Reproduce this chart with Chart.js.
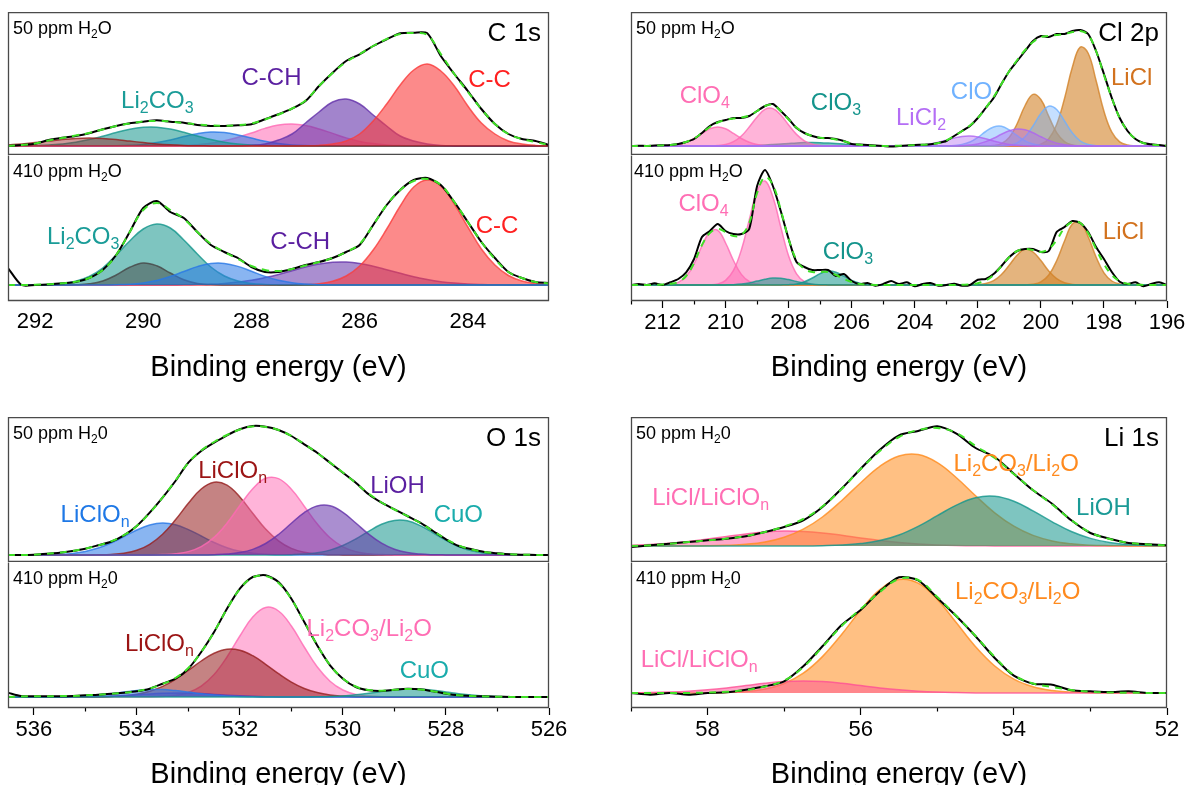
<!DOCTYPE html>
<html>
<head>
<meta charset="utf-8">
<script src="https://cdn.jsdelivr.net/npm/chart.js@4.4.1/dist/chart.umd.min.js"></script>
<style>
  body { margin: 0; width: 1194px; height: 785px; overflow: hidden; position: relative; background: #fff; }
  canvas { position: absolute; }
</style>
</head>
<body>
<canvas id="cTop"></canvas><canvas id="cBot"></canvas>
<canvas id="clTop"></canvas><canvas id="clBot"></canvas>
<canvas id="oTop"></canvas><canvas id="oBot"></canvas>
<canvas id="liTop"></canvas><canvas id="liBot"></canvas>
<script>
// ---------- C 1s (binding energy grid, eV) ----------
const cEnergy = [292.5,292.25,292,291.75,291.5,291.25,291,290.75,290.5,290.25,
  290,289.75,289.5,289.25,289,288.75,288.5,288.25,288,287.75,
  287.5,287.25,287,286.75,286.5,286.25,286,285.75,285.5,285.25,
  285,284.75,284.5,284.25,284,283.75,283.5,283.25,283,282.75,282.5];
const cTicks = [292, 290, 288, 286, 284];
// 50 ppm
const cTopRaw = [0,1,2.3,6,8.3,10,12.7,16.7,20,22.7, 24.3,25.7,24.3,23.3,21,20,20,20.7,21.7,26.7,
  31.7,37.3,45,60,73.3,85,91.7,100,106.7,112.7, 113.3,112.7,90,72,55,37,22,12,7,5, 1];
const cTopFit = [0,1,2.5,5.5,8,10.5,13,16.5,20,22.5, 24.5,25,24.5,23,21.5,20.5,20.3,20.8,22.5,26.5,
  31.5,37.5,45.5,60,73,84,92,100,107,112, 113,111,92,72,54,37,22,12,7,4, 1];
const cTopBrown = [1.2,2.1,3.4,4.9,6.5,7.6,8,7.6,6.5,4.9, 3.4,2.1,1.2,0.6,0.3,0.1,0,0,0,0,
  0,0,0,0,0,0,0,0,0,0, 0,0,0,0,0,0,0,0,0,0, 0];
const cTopLi2CO3 = [0,0.15,0.4,0.9,2,3.7,6.4,9.8,13.5,16.8, 18.7,18.8,16.9,13.7,10,6.5,3.8,2,0.95,0.4,
  0.15,0,0,0,0,0,0,0,0,0, 0,0,0,0,0,0,0,0,0,0, 0];
const cTopBlue = [0,0,0,0,0,0,0,0.1,0.2,0.7, 1.6,3.4,6.1,9.4,12.3,13.9,13.4,11.1,7.9,4.8,
  2.5,1.1,0.4,0.1,0,0,0,0,0,0, 0,0,0,0,0,0,0,0,0,0, 0];
const cTopPink = [0,0,0,0,0,0,0,0,0,0, 0,0,0.2,0.5,1.2,2.7,5.2,8.8,13,17.6,
  21,22,20.5,17,12.6,8.1,4.6,2.4,1.1,0.4, 0.1,0,0,0,0,0,0,0,0,0, 0];
const cTopCH = [0,0,0,0,0,0,0,0,0,0, 0,0,0,0,0,0,0,0.2,0.7,2,
  6,12,23,34,44,47,42,31,20,10, 5,2,0.5,0.1,0,0,0,0,0,0, 0];
const cTopCC = [0,0,0,0,0,0,0,0,0,0, 0,0,0,0,0,0,0,0,0,0,
  0,0,0.2,0.6,2,5,12,25,42,61, 76,82,75,60,40,23,12,5,2,0.6, 0.2];
// 410 ppm
const cBotRaw = [17,0,0,0.5,1.7,3,7,15,30,53, 77,84,73,67,53,40,33,27,18,13,
  13,16,20,23,27,33,40,60,80,95, 105,107,100,83,63,43,27,13,7,3, 2];
const cBotFit = [0,0,0.3,0.8,1.7,3.2,7,15,30,53, 75,82,75,66,53,41,33,26,19,15,
  14,16,19.5,23,27,33,41,60,80,95, 104,106,100,83,63,43,26,13,7,3, 1.5];
const cBotLi2CO3 = [0,0,0,0.4,1.3,3.8,8.6,17,30,44, 56,61,57,45,31,18,9,4,1.5,0.5,
  0.1,0,0,0,0,0,0,0,0,0, 0,0,0,0,0,0,0,0,0,0, 0];
const cBotGray = [0,0,0,0,0,0.2,1.2,4,10,17.7, 22,19.2,12,5.2,1.6,0.4,0,0,0,0,
  0,0,0,0,0,0,0,0,0,0, 0,0,0,0,0,0,0,0,0,0, 0];
const cBotBlue = [0,0,0,0,0,0,0,0,0.3,0.8, 2.1,4.6,8.5,13.5,18.4,21.5,21.6,18.6,13.7,8.6,
  4.7,2.2,0.9,0.3,0.1,0,0,0,0,0, 0,0,0,0,0,0,0,0,0,0, 0];
const cBotCH = [0,0,0,0,0,0,0,0,0,0, 0,0,0,0.2,0.4,0.8,1.6,2.9,4.7,7.4,
  10.6,14.3,17.9,20.9,22.7,22.9,21.5,18.8,15.3,11.7, 8.2,5.4,3.3,1.9,1,0.5,0.2,0.1,0,0, 0];
const cBotCC = [0,0,0,0,0,0,0,0,0,0, 0,0,0,0,0,0,0,0,0,0,
  0,0.1,0.4,1.3,3.7,9,19,35,56,79, 98,105,99,81,58,36,20,9.5,4,1.5, 0.5];

// ---------- Cl 2p ----------
const clEnergy = [213,212.75,212.5,212.25,212,211.75,211.5,211.25,211,210.75,
  210.5,210.25,210,209.75,209.5,209.25,209,208.75,208.5,208.25,
  208,207.75,207.5,207.25,207,206.75,206.5,206.25,206,205.75,
  205.5,205.25,205,204.75,204.5,204.25,204,203.75,203.5,203.25,
  203,202.75,202.5,202.25,202,201.75,201.5,201.25,201,200.75,
  200.5,200.25,200,199.75,199.5,199.25,199,198.75,198.5,198.25,
  198,197.75,197.5,197.25,197,196.75,196.5,196.25,196];
const clTicks = [213,212,211,210,209,208,207,206,205,204,203,202,201,200,199,198,197,196];
const clTopRaw = [0,0.3,0,0.5,0.7,1,2,4,7,13, 20,24,26,28,28,30,35,40,42,35,
  27,18,13,10,8,8,7,5,2,1.5, 1,0.5,0,-0.5,0,0.5,1,1.3,1.7,3,
  5,10,15,20,28,38,48,62,75,85, 95,105,110,109,112,112,115,116,112,95,
  72,48,28,15,7,3,1.7,1,0];
const clTopFit = [0,0,0,0.3,0.6,1,2,4,7.5,13, 19,23.5,26,27.5,28.5,30.5,35,40,41,35,
  26.5,18.5,13,10,8.3,7.5,6.5,4.8,2.5,1.3, 0.7,0.3,0.1,0.1,0.2,0.4,0.8,1.2,1.8,3,
  5.5,10,15,20.5,28,38,49,62,75,86, 96,104,109,110,111,112,114,115,111,95,
  71,48,28,15,7,3,1.5,0.7,0.3];
const clTopClO4a = [0,0,0,0,0.1,0.5,1.5,3.7,7.5,12.6, 17.2,19,17.2,12.6,7.5,3.7,1.5,0.5,0.1,0,
  0,0,0,0,0,0,0,0,0,0, 0,0,0,0,0,0,0,0,0,0, 0,0,0,0,0,0,0,0,0,0,
  0,0,0,0,0,0,0,0,0,0, 0,0,0,0,0,0,0,0,0];
const clTopClO4b = [0,0,0,0,0,0,0,0,0,0, 0.1,0.4,1.5,4.3,10,19,29,36.6,37.4,31,
  21,11.6,5.2,1.9,0.6,0.2,0,0,0,0, 0,0,0,0,0,0,0,0,0,0, 0,0,0,0,0,0,0,0,0,0,
  0,0,0,0,0,0,0,0,0,0, 0,0,0,0,0,0,0,0,0];
const clTopClO3 = [0,0,0,0,0,0,0,0,0,0, 0,0,0,0,0.2,0.4,0.7,1,1.5,2.1,
  2.6,3.1,3.4,3.5,3.3,2.9,2.4,1.9,1.3,0.9, 0.5,0.3,0.1,0,0,0,0,0,0,0, 0,0,0,0,0,0,0,0,0,0,
  0,0,0,0,0,0,0,0,0,0, 0,0,0,0,0,0,0,0,0];
const clTopLiCl2a = [0,0,0,0,0,0,0,0,0,0, 0,0,0,0,0,0,0,0,0,0,
  0,0,0,0,0,0,0,0,0,0, 0,0,0,0,0,0,0.4,1,2.1,3.8, 5.9,8,9.6,10,9.1,7.2,5,3,1.6,0.7,
  0.3,0.1,0,0,0,0,0,0,0,0, 0,0,0,0,0,0,0,0,0];
const clTopLiCl2b = [0,0,0,0,0,0,0,0,0,0, 0,0,0,0,0,0,0,0,0,0,
  0,0,0,0,0,0,0,0,0,0, 0,0,0,0,0,0,0,0,0,0, 0,0,0.3,0.9,2.1,4.4,7.7,11.7,15.2,17,
  16.2,13.2,9.3,5.6,2.9,1.3,0.5,0.2,0,0, 0,0,0,0,0,0,0,0,0];
const clTopClOa = [0,0,0,0,0,0,0,0,0,0, 0,0,0,0,0,0,0,0,0,0,
  0,0,0,0,0,0,0,0,0,0, 0,0,0,0,0,0,0,0,0,0, 0.1,0.4,1.5,4,8.6,14.5,19,19.7,16,10.3,
  5.1,2,0.6,0.1,0,0,0,0,0,0, 0,0,0,0,0,0,0,0,0];
const clTopClOb = [0,0,0,0,0,0,0,0,0,0, 0,0,0,0,0,0,0,0,0,0,
  0,0,0,0,0,0,0,0,0,0, 0,0,0,0,0,0,0,0,0,0, 0,0,0,0,0,0,0,0.2,0.8,3.2,
  9.2,20,32.5,39.8,36.5,25,13,5,1.5,0.3, 0,0,0,0,0,0,0,0,0];
const clTopLiCla = [0,0,0,0,0,0,0,0,0,0, 0,0,0,0,0,0,0,0,0,0,
  0,0,0,0,0,0,0,0,0,0, 0,0,0,0,0,0,0,0,0,0, 0,0,0,0,0,0.1,0.5,2.4,8.8,22.5,
  40.5,51.6,46.5,29.6,13.4,4.3,1,0.2,0,0, 0,0,0,0,0,0,0,0,0];
const clTopLiClb = [0,0,0,0,0,0,0,0,0,0, 0,0,0,0,0,0,0,0,0,0,
  0,0,0,0,0,0,0,0,0,0, 0,0,0,0,0,0,0,0,0,0, 0,0,0,0,0,0,0,0,0,0,
  0,0.4,1.8,7.3,21.5,47.5,79,98.9,92.8,65.5, 34.7,13.8,4.1,0.9,0.2,0,0,0,0];
const clBotRaw = [0,1,0,1.7,0,2.7,6,12.7,26,48, 54,61,54,51,51,56,99,115,99,74,
  46,23,18,15,15,15,9,11,4,1, 2,-0.7,1,4,1,2.7,-1.3,1,2,-0.7,
  0,1.3,-0.7,0,5.3,6,11,19,28,34, 36,36,33,34,53,58,64,62,53,38,
  26,13,3.3,1,2.7,-1.3,1,2.7,0];
const clBotFit = [0,0,0,0.2,0.5,1.2,3,9,22,40, 52,56,53,49,50,62,92,108,100,75,
  46,25,16,13,13,13,10,6,3,1, 0.4,0.1,0,0,0,0,0,0,0,0,
  0,0,0.2,0.6,1.8,4.5,10,19,28,34, 36,35,33,36,45,57,63,62,52,36,
  21,10,4,1.3,0.4,0.1,0,0,0];
const clBotClO4a = [0,0,0,0,0.1,0.6,2.7,8.7,21,39, 53,54.7,42,24.5,10.6,3.5,0.9,0.2,0,0,
  0,0,0,0,0,0,0,0,0,0, 0,0,0,0,0,0,0,0,0,0, 0,0,0,0,0,0,0,0,0,0,
  0,0,0,0,0,0,0,0,0,0, 0,0,0,0,0,0,0,0,0];
const clBotClO4b = [0,0,0,0,0,0,0,0,0,0, 0.2,1.1,4.6,14.6,35,65,94,104,88,58,
  29,11.2,3.4,0.8,0.1,0,0,0,0,0, 0,0,0,0,0,0,0,0,0,0, 0,0,0,0,0,0,0,0,0,0,
  0,0,0,0,0,0,0,0,0,0, 0,0,0,0,0,0,0,0,0];
const clBotClO3a = [0,0,0,0,0,0,0,0,0,0, 0,0,0.1,0.35,1,2.1,3.9,5.7,6.9,6.7,
  5.4,3.5,1.9,0.8,0.3,0.1,0,0,0,0, 0,0,0,0,0,0,0,0,0,0, 0,0,0,0,0,0,0,0,0,0,
  0,0,0,0,0,0,0,0,0,0, 0,0,0,0,0,0,0,0,0];
const clBotClO3b = [0,0,0,0,0,0,0,0,0,0, 0,0,0,0,0,0,0,0,0,0.1,
  0.3,1.1,3.2,7,11.4,14,12.8,8.8,4.6,1.8, 0.5,0.1,0,0,0,0,0,0,0,0, 0,0,0,0,0,0,0,0,0,0,
  0,0,0,0,0,0,0,0,0,0, 0,0,0,0,0,0,0,0,0];
const clBotLiCla = [0,0,0,0,0,0,0,0,0,0, 0,0,0,0,0,0,0,0,0,0,
  0,0,0,0,0,0,0,0,0,0, 0,0,0,0,0,0,0,0,0,0, 0,0,0,0.1,0.4,1.4,4.3,10.5,20,30,
  36,33,24.4,14,6.4,2.3,0.6,0.1,0,0, 0,0,0,0,0,0,0,0,0];
const clBotLiClb = [0,0,0,0,0,0,0,0,0,0, 0,0,0,0,0,0,0,0,0,0,
  0,0,0,0,0,0,0,0,0,0, 0,0,0,0,0,0,0,0,0,0, 0,0,0,0,0,0,0,0,0,0,
  0.1,0.7,3.1,10,24.3,44,61,62.5,48.3,28, 12.2,4,1,0.2,0,0,0,0,0];

// ---------- O 1s ----------
const oEnergy = [536.5,536.25,536,535.75,535.5,535.25,535,534.75,534.5,534.25,
  534,533.75,533.5,533.25,533,532.75,532.5,532.25,532,531.75,
  531.5,531.25,531,530.75,530.5,530.25,530,529.75,529.5,529.25,
  529,528.75,528.5,528.25,528,527.75,527.5,527.25,527,526.75,
  526.5,526.25,526];
const oTicks = [536,535,534,533,532,531,530,529,528,527,526];
const oTopRaw = [0,0,0.3,1.3,2.3,4,6.3,9.7,13.3,19.7, 29,42.3,57.3,74,92.3,104,112.3,119.7,125.7,129,
  128.3,125,119,110.7,102.3,92.3,82.3,72.3,60.7,52.3, 45.7,39,32.3,24,15.7,9,5.7,3,1.7,0.7, 0.3,0,0];
const oTopFit = [0,0,0.3,1.2,2.4,4,6.4,9.6,13.6,19.8, 29,42,57.5,74.5,92,104.5,113,120,125.5,128.5,
  128,125,119,111,102,92.5,82.5,72,61.5,52.5, 45.5,39,32,24,16,9.5,5.5,3,1.6,0.7, 0.3,0.1,0];
const oTopBlue = [0,0,0,0.2,0.7,1.6,3.6,7,12,18.4, 25,30,32,30.3,25.4,19,12.5,7.3,3.8,1.8,
  0.7,0.3,0.1,0,0,0,0,0,0,0, 0,0,0,0,0,0,0,0,0,0, 0,0,0];
const oTopBrown = [0,0,0,0,0,0,0,0.2,0.6,1.8, 4.7,10.7,20.8,35.2,51.7,66,72.8,69.8,58,41.8,
  26,14.2,6.6,2.7,1,0.3,0.1,0,0,0, 0,0,0,0,0,0,0,0,0,0, 0,0,0];
const oTopPink = [0,0,0,0,0,0,0,0,0,0, 0,0,0.4,1.3,3.4,8.4,17.6,31.8,49.5,66.3,
  76.7,76.4,65.8,48.8,31.2,17.2,8.2,3.4,1.2,0.4, 0.1,0,0,0,0,0,0,0,0,0, 0,0,0];
const oTopLiOH = [0,0,0,0,0,0,0,0,0,0, 0,0,0,0,0,0,0.3,0.9,2.4,5.6,
  11.5,20.5,31.7,42.4,49,49.2,42.7,32,20.9,11.8, 5.7,2.4,0.9,0.3,0.1,0,0,0,0,0, 0,0,0];
const oTopCuO = [0,0,0,0,0,0,0,0,0,0, 0,0,0,0,0,0,0,0,0,0,
  0,0,0.3,0.9,2.2,4.9,9.5,16,23.7,30.7, 34.6,34.2,29.4,22.2,14.6,8.3,4.2,1.8,0.7,0.2, 0.1,0,0];
const oBotRaw = [4.3,1,0.7,0.7,0.7,1,1.7,2.3,3.3,4.3, 5.7,8.3,13.3,18.3,28.3,45,65,88.3,108.3,120,
  121.7,115,98.3,75,51.7,31.7,18.3,10,6.7,6, 7.3,8.3,7.7,5.7,3.3,1.7,1,0.7,0.3,0, 0,0,0];
const oBotFit = [0,0.5,0.7,0.8,0.9,1.1,1.6,2.3,3.2,4.3, 5.8,8.5,13,19,29,45,65,88,108,119.5,
  121,114,98,75,52,32,18.5,10.5,7,6.3, 7.2,8,7.6,5.8,3.5,1.8,1,0.6,0.3,0.1, 0,0,0];
const oBotBlue = [0,0,0,0,0.2,0.4,1,1.9,3.3,4.9, 6.5,7.4,7.4,6.4,4.9,3.2,1.9,1,0.4,0.2,
  0,0,0,0,0,0,0,0,0,0, 0,0,0,0,0,0,0,0,0,0, 0,0,0];
const oBotPurple = [0,0,0,0,0,0,0.25,0.5,0.9,1.6, 2.3,3.1,3.7,4,3.9,3.4,2.6,1.8,1.2,0.7,
  0.3,0.1,0,0,0,0,0,0,0,0, 0,0,0,0,0,0,0,0,0,0, 0,0,0];
const oBotBrown = [0,0,0,0,0,0,0,0,0.5,1.2, 2.7,5.7,10.6,17.7,26.6,36,43.7,47.8,46.8,41.3,
  32.7,23.3,14.9,8.5,4.4,2,0.9,0.3,0.1,0, 0,0,0,0,0,0,0,0,0,0, 0,0,0];
const oBotPink = [0,0,0,0,0,0,0,0,0,0, 0,0,0.5,1.6,4.5,10.9,22.5,40,61,80,
  89.6,86,71,50,30.2,15.8,7,2.6,0.9,0.3, 0,0,0,0,0,0,0,0,0,0, 0,0,0];
const oBotCuO = [0,0,0,0,0,0,0,0,0,0, 0,0,0,0,0,0,0,0,0,0,
  0,0,0,0,0.2,0.5,1.1,2.2,3.7,5.4, 7,7.9,7.8,6.7,5.1,3.3,1.9,1,0.4,0.2, 0,0,0];

// ---------- Li 1s ----------
const liEnergy = [59,58.75,58.5,58.25,58,57.75,57.5,57.25,57,56.75,
  56.5,56.25,56,55.75,55.5,55.25,55,54.75,54.5,54.25,
  54,53.75,53.5,53.25,53,52.75,52.5,52.25,52];
const liTicks = [59,58,57,56,55,54,53,52];
const liTopRaw = [-1,0.7,2.3,4,5.7,7.3,9.7,14,19,25.7, 39,57.3,77.3,96.3,110.7,115,119.7,112.3,98,89,
  72.3,55.7,42.3,25.7,13,7.3,3,1.7,0.7];
const liTopFit = [0,0.7,2.2,3.9,5.6,7.4,10,14,19.5,27, 39.5,57,77,95,109,116,118,113,100,88,
  72,56,41.5,26,13.5,7,3.2,1.5,0.6];
const liTopPink = [0.8,1.5,2.8,4.6,6.9,9.5,12.1,14,15,14.6, 13.1,10.8,8.1,5.6,3.6,2.1,1.1,0.5,0.2,0.1,
  0,0,0,0,0,0,0,0,0];
const liTopOrange = [0,0,0,0,0.2,0.7,1.7,4,8.7,16.8, 29,45.3,63.3,79.7,90,91.4,83.4,68.3,50.3,33.2,
  19.8,10.6,5.1,2.2,0.8,0.3,0.1,0,0];
const liTopLiOH = [0,0,0,0,0,0,0,0,0,0, 0.3,0.9,2.4,5.4,11,19.6,30.3,40.9,48.3,49.7,
  44.7,35.1,24.2,14.5,7.6,3.4,1.4,0.5,0.2];
const liBotRaw = [0,-1.7,0,-1.7,0,0.7,3.3,6.7,11.7,26.7, 46.7,68,83,101.7,115.7,112.7,95,76.7,56.7,35,
  17.3,9.3,8.3,2.7,1.7,1,1.7,0,0];
const liBotFit = [0,0,0,0.1,0.4,1.2,3,6.5,12.5,26, 46,67,84,101,114,113,96,77,57,36,
  18,9.5,6,3,1.3,0.5,0.3,0.1,0];
const liBotPink = [0.2,0.4,0.9,1.8,3.2,5.1,7.4,9.7,11.4,12, 11.4,9.7,7.4,5.1,3.2,1.8,0.9,0.4,0.1,0,
  0,0,0,0,0,0,0,0,0];
const liBotOrange = [0,0,0,0,0.1,0.5,1.5,4,9.5,19.8, 36.4,58.5,82.9,103.4,113.5,109.9,93.6,70.2,46.3,27,
  13.8,6.2,2.5,0.9,0.3,0.1,0,0,0];

// ---------- drawing ----------
const FONT = '"Liberation Sans", Arial, Helvetica, sans-serif';
const PAD = 30;
const AXIS_H = 84;

const RED = [250, 60, 60], PURPLE = [100, 50, 170], PINK = [255, 105, 180], BLUE = [40, 120, 230],
  TEAL = [20, 150, 140], BROWN = [150, 30, 30], GRAY = [70, 70, 70], ORANGE = [210, 130, 40],
  LAV = [175, 100, 240], SKY = [110, 175, 255], AMBER = [255, 140, 30], ROSE = [255, 80, 150];

// "Li_2CO_3" -> the char after "_" is a subscript
function richText(ctx, str, x, y, size, color, align) {
  const parts = [];
  for (let i = 0; i < str.length; i++) {
    if (str[i] === '_') { parts.push([str[i + 1], true]); i++; }
    else if (parts.length && !parts[parts.length - 1][1]) parts[parts.length - 1][0] += str[i];
    else parts.push([str[i], false]);
  }
  const big = size + 'px ' + FONT, small = Math.round(size * 0.68) + 'px ' + FONT;
  let w = 0;
  parts.forEach(p => { ctx.font = p[1] ? small : big; p.push(ctx.measureText(p[0]).width); w += p[2]; });
  let cx = align === 'left' ? x : align === 'right' ? x - w : x - w / 2;
  ctx.fillStyle = color; ctx.textAlign = 'left'; ctx.textBaseline = 'middle';
  parts.forEach(p => { ctx.font = p[1] ? small : big; ctx.fillText(p[0], cx, p[1] ? y + size * 0.33 : y); cx += p[2]; });
}

const framePlugin = {
  id: 'frame',
  afterDraw(chart, args, opts) {
    const { ctx, chartArea: a } = chart;
    const l = a.left + 0.5, r = a.right - 0.5, t = a.top + 0.5, b = a.bottom - 0.5;
    ctx.save();
    ctx.strokeStyle = '#4a4a4a'; ctx.lineWidth = 1.3;
    ctx.beginPath();
    if (opts.top === false) { ctx.moveTo(l, t); ctx.lineTo(l, b); ctx.lineTo(r, b); ctx.lineTo(r, t); }
    else ctx.rect(l, t, r - l, b - t);
    ctx.stroke();
    ctx.restore();
  }
};

const tagPlugin = {
  id: 'tags',
  afterDatasetsDraw(chart, args, opts) {
    const { ctx, chartArea: a, scales: { x, y } } = chart;
    ctx.save();
    (opts.items || []).forEach(t =>
      richText(ctx, t.text, x.getPixelForValue(t.x), y.getPixelForValue(t.y), 24, t.color, 'center'));
    if (opts.left) richText(ctx, opts.left, a.left + (opts.leftX || 5), a.top + 17, 18, '#000', 'left');
    if (opts.right) richText(ctx, opts.right, a.right - 8, a.top + 22, 26, '#000', 'right');
    ctx.restore();
  }
};

const rgba = (c, a) => `rgba(${c[0]},${c[1]},${c[2]},${a})`;

function subplot(id, box, energy, yr, comps, raw, fit, tags, axis) {
  const cv = document.getElementById(id);
  cv.width = box.w + 2 * PAD;
  cv.height = box.h + (axis ? AXIS_H : 0);
  cv.style.left = (box.x - PAD) + 'px';
  cv.style.top = box.y + 'px';
  const pts = arr => energy.map((e, i) => ({ x: e, y: arr[i] }));
  const datasets = [
    { data: pts(fit), borderColor: '#3fe026', borderWidth: 2, borderDash: [7, 6], fill: false, tension: 0.4, order: 0 },
    { data: pts(raw), borderColor: '#000', borderWidth: 2, fill: false, tension: 0.25, order: 1 }
  ];
  comps.forEach((c, i) => datasets.push({
    data: pts(c.data), borderColor: rgba(c.color, 0.8), backgroundColor: rgba(c.color, c.alpha || 0.55),
    borderWidth: 1.5, fill: 'origin', tension: 0.4, order: 100 - i
  }));
  const xScale = {
    type: 'linear', reverse: true, min: energy[energy.length - 1], max: energy[0], display: false
  };
  if (axis) Object.assign(xScale, {
    display: true, position: 'bottom',
    afterFit: s => { s.height = AXIS_H; },
    afterBuildTicks: s => { s.ticks = axis.values.map(v => ({ value: v })); },
    border: { display: false },
    grid: {
      drawOnChartArea: false, drawTicks: axis.marks, tickLength: 7, tickColor: '#000', tickWidth: 1.2,
      // odd (unlabelled) ticks are drawn half length
      tickBorderDash: c => (c.tick && c.tick.value % 2 !== 0 ? [3.5, 30] : [])
    },
    ticks: {
      autoSkip: false, maxRotation: 0, color: '#000',
      padding: axis.marks ? 2 : 8, font: { family: FONT, size: 22 },
      callback: v => (v % 2 === 0 ? String(v) : '')
    },
    title: { display: true, text: 'Binding energy (eV)', color: '#000', font: { family: FONT, size: 29 }, padding: 0 }
  });
  new Chart(cv, {
    type: 'line',
    data: { datasets },
    options: {
      responsive: false, animation: false, events: [],
      layout: { padding: { left: PAD, right: PAD, top: 0, bottom: 0 } },
      elements: { point: { radius: 0 } },
      scales: { x: xScale, y: { display: false, min: yr[0], max: yr[1] } },
      plugins: { legend: { display: false }, tooltip: { enabled: false }, tags, frame: { top: !axis } }
    },
    plugins: [tagPlugin, framePlugin]
  });
}

// C 1s
subplot('cTop', { x: 8, y: 12, w: 541, h: 143 }, cEnergy, [-9, 134],
  [{ data: cTopPink, color: PINK }, { data: cTopBlue, color: BLUE }, { data: cTopLi2CO3, color: TEAL },
   { data: cTopCH, color: PURPLE, alpha: 0.6 }, { data: cTopCC, color: RED, alpha: 0.6 }, { data: cTopBrown, color: BROWN, alpha: 0.45 }],
  cTopRaw, cTopFit,
  { left: '50 ppm H_2O', right: 'C 1s', items: [
    { text: 'Li_2CO_3', x: 289.74, y: 45, color: '#1a9c98' },
    { text: 'C-CH', x: 287.63, y: 68, color: '#5a1fa0' },
    { text: 'C-C', x: 283.6, y: 66, color: '#ff2020' }] });
subplot('cBot', { x: 8, y: 155, w: 541, h: 146 }, cEnergy, [-16, 130],
  [{ data: cBotCH, color: PURPLE, alpha: 0.55 }, { data: cBotCC, color: RED, alpha: 0.6 }, { data: cBotLi2CO3, color: TEAL },
   { data: cBotGray, color: GRAY, alpha: 0.5 }, { data: cBotBlue, color: BLUE }],
  cBotRaw, cBotFit,
  { left: '410 ppm H_2O', items: [
    { text: 'Li_2CO_3', x: 291.11, y: 48, color: '#1a9c98' },
    { text: 'C-CH', x: 287.1, y: 43, color: '#5a1fa0' },
    { text: 'C-C', x: 283.46, y: 59, color: '#ff2020' }] },
  { values: cTicks, marks: false });

// Cl 2p
subplot('clTop', { x: 631, y: 12, w: 536, h: 143 }, clEnergy, [-9, 134],
  [{ data: clTopClO3, color: TEAL }, { data: clTopClO4a, color: PINK, alpha: 0.5 }, { data: clTopClO4b, color: PINK, alpha: 0.5 },
   { data: clTopLiCla, color: ORANGE, alpha: 0.6 }, { data: clTopLiClb, color: ORANGE, alpha: 0.6 },
   { data: clTopClOa, color: SKY, alpha: 0.45 }, { data: clTopClOb, color: SKY, alpha: 0.4 },
   { data: clTopLiCl2a, color: LAV, alpha: 0.4 }, { data: clTopLiCl2b, color: LAV, alpha: 0.4 }],
  clTopRaw, clTopFit,
  { left: '50 ppm H_2O', right: 'Cl 2p', items: [
    { text: 'ClO_4', x: 210.66, y: 50, color: '#ff6eb4' },
    { text: 'ClO_3', x: 206.5, y: 43, color: '#14948c' },
    { text: 'LiCl_2', x: 203.8, y: 28, color: '#b46ef5' },
    { text: 'ClO', x: 202.2, y: 54, color: '#70b2ff' },
    { text: 'LiCl', x: 197.12, y: 68, color: '#d2721e' }] });
subplot('clBot', { x: 631, y: 155, w: 536, h: 146 }, clEnergy, [-16, 130],
  [{ data: clBotClO4a, color: PINK, alpha: 0.5 }, { data: clBotClO4b, color: PINK, alpha: 0.5 },
   { data: clBotLiCla, color: ORANGE, alpha: 0.6 }, { data: clBotLiClb, color: ORANGE, alpha: 0.6 },
   { data: clBotClO3a, color: TEAL }, { data: clBotClO3b, color: TEAL }],
  clBotRaw, clBotFit,
  { left: '410 ppm H_2O', leftX: 3, items: [
    { text: 'ClO_4', x: 210.7, y: 81, color: '#ff6eb4' },
    { text: 'ClO_3', x: 206.12, y: 33, color: '#14948c' },
    { text: 'LiCl', x: 197.38, y: 53, color: '#d2721e' }] },
  { values: clTicks, marks: true });

// O 1s
subplot('oTop', { x: 8, y: 417, w: 541, h: 145 }, oEnergy, [-7, 138],
  [{ data: oTopBlue, color: BLUE }, { data: oTopBrown, color: BROWN }, { data: oTopPink, color: PINK, alpha: 0.5 },
   { data: oTopCuO, color: TEAL }, { data: oTopLiOH, color: PURPLE, alpha: 0.55 }],
  oTopRaw, oTopFit,
  { left: '50 ppm H_20', right: 'O 1s', items: [
    { text: 'LiClO_n', x: 534.81, y: 40, color: '#1e78e6' },
    { text: 'LiClO_n', x: 532.14, y: 84, color: '#9b1414' },
    { text: 'LiOH', x: 528.94, y: 69, color: '#5a1fa0' },
    { text: 'CuO', x: 527.76, y: 40, color: '#1aacac' }] });
subplot('oBot', { x: 8, y: 562, w: 541, h: 146 }, oEnergy, [-11, 135],
  [{ data: oBotPink, color: PINK, alpha: 0.5 }, { data: oBotBrown, color: BROWN }, { data: oBotPurple, color: PURPLE },
   { data: oBotBlue, color: BLUE }, { data: oBotCuO, color: TEAL }],
  oBotRaw, oBotFit,
  { left: '410 ppm H_20', items: [
    { text: 'LiClO_n', x: 533.56, y: 53, color: '#9b1414' },
    { text: 'Li_2CO_3/Li_2O', x: 529.49, y: 68, color: '#ff6eb4' },
    { text: 'CuO', x: 528.42, y: 26, color: '#1aacac' }] },
  { values: oTicks, marks: true });

// Li 1s
subplot('liTop', { x: 631, y: 417, w: 536, h: 145 }, liEnergy, [-16, 129],
  [{ data: liTopPink, color: ROSE, alpha: 0.5 }, { data: liTopOrange, color: AMBER, alpha: 0.55 }, { data: liTopLiOH, color: TEAL }],
  liTopRaw, liTopFit,
  { left: '50 ppm H_20', right: 'Li 1s', items: [
    { text: 'LiCl/LiClO_n', x: 57.96, y: 48, color: '#ff6eb4' },
    { text: 'Li_2CO_3/Li_2O', x: 53.97, y: 82, color: '#ff8a1e' },
    { text: 'LiOH', x: 52.83, y: 38, color: '#1a9a96' }] });
subplot('liBot', { x: 631, y: 562, w: 536, h: 146 }, liEnergy, [-15, 131],
  [{ data: liBotOrange, color: AMBER, alpha: 0.55 }, { data: liBotPink, color: ROSE, alpha: 0.5 }],
  liBotRaw, liBotFit,
  { left: '410 ppm H_20', items: [
    { text: 'LiCl/LiClO_n', x: 58.11, y: 33, color: '#ff6eb4' },
    { text: 'Li_2CO_3/Li_2O', x: 53.95, y: 101, color: '#ff8a1e' }] },
  { values: liTicks, marks: true });
</script>
</body>
</html>
